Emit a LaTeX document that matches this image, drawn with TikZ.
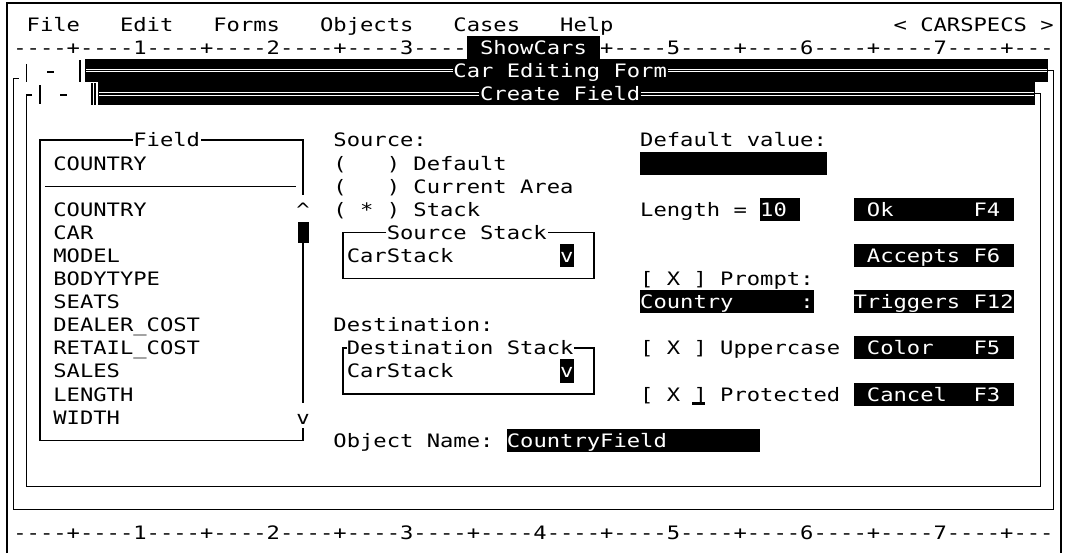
\documentclass[tikz,border=0pt]{standalone}
\usepackage{fontspec}
\newfontfamily\term{DejaVu Sans Mono}[FakeStretch=1.1975]
\begin{document}
\begin{tikzpicture}[x=13.3375pt, y=-23.1pt,
  txt/.style={anchor=base west, inner sep=0pt, outer sep=0pt,
    font={\term\fontsize{18.5}{18.5}\selectfont}, text=black},
  inv/.style={txt, text=white},
  ctr/.style={txt, anchor=base},
  frame/.style={line width=1.3pt, black},
  edge/.style={line width=2pt, black},
  dbl/.style={white, line width=0.8pt}]

% page and screen edge
\useasboundingbox (0,-0.5606) rectangle (80,23.379);
\fill[white] (0,-0.5606) rectangle (80,23.379);
\draw[edge] (0.5,23.379) -- (0.5,-0.452) -- (79.55,-0.452) -- (79.55,23.379);

% menu bar
\node[txt] (mFile) at (2,0.8) {File};
\node[txt] (mEdit) at (9,0.8) {Edit};
\node[txt] (mForms) at (16,0.8) {Forms};
\node[txt] (mObjects) at (24,0.8) {Objects};
\node[txt] (mCases) at (34,0.8) {Cases};
\node[txt] (mHelp) at (42,0.8) {Help};
\node[txt] (mApp) at (67,0.8) {< CARSPECS >};

% column ruler with the active tab
\node[txt] (rulA) at (1,1.8) {----+----1----+----2----+----3----};
\fill (35,1) rectangle (45,2);
\node[inv] (tab) at (36,1.8) {ShowCars};
\node[txt] (rulB) at (45,1.8) {+----5----+----6----+----7----+---};

% outer window: Car Editing Form
\draw[frame] (1.4,2.85) -- (1,2.85) -- (1,21.5) -- (79,21.5) -- (79,2.5) -- (78.57,2.5);
\draw[frame] (2,2.2) -- (2,3.0);
\draw[frame] (3.55,2.56) -- (4.05,2.56);
\draw[frame] (6,2.05) -- (6,3.0);
\fill (6.37,2) rectangle (78.57,3);
\draw[dbl] (6.45,2.45) -- (33.95,2.45) (6.45,2.55) -- (33.95,2.55);
\draw[dbl] (50.05,2.45) -- (78.5,2.45) (50.05,2.55) -- (78.5,2.55);
\node[inv] (carT) at (34,2.8) {Car Editing Form};

% inner window: Create Field
\draw[frame] (2.4,3.55) -- (2,3.55) -- (2,20.5) -- (78,20.5) -- (78,3.5) -- (77.6,3.5);
\draw[frame] (3,3.12) -- (3,3.92);
\draw[frame] (4.5,3.55) -- (5.0,3.55);
\draw[frame] (6.9,3.05) -- (6.9,3.97) (7.12,3.05) -- (7.12,3.97);
\fill (7.35,3) rectangle (77.6,4);
\draw[dbl] (7.45,3.45) -- (35.95,3.45) (7.45,3.55) -- (35.95,3.55);
\draw[dbl] (48.05,3.45) -- (77.5,3.45) (48.05,3.55) -- (77.5,3.55);
\node[inv] (crT) at (36,3.8) {Create Field};

% Field list box with scroll bar
\draw[frame] (9.95,5.5) -- (3,5.5) -- (3,18.5) -- (22.72,18.5) -- (22.72,17.97);
\draw[frame] (15.1,5.5) -- (22.72,5.5) -- (22.72,7.88);
\draw[frame] (22.72,9.96) -- (22.72,16.88);
\fill (22.34,9.05) rectangle (23.17,9.96);
\node[ctr] (scrUp) at (22.72,8.8) {\string^};
\node[ctr] (scrDn) at (22.72,17.8) {v};
\node[txt] (fldT) at (10,5.8) {Field};
\node[txt] (fldSel) at (4,6.8) {COUNTRY};
\draw[frame] (3.37,7.5) -- (22.19,7.5);
\foreach \t [count=\i from 8] in {COUNTRY,CAR,MODEL,BODYTYPE,SEATS,DEALER\_COST,RETAIL\_COST,SALES,LENGTH,WIDTH}
  \node[txt] (fld\i) at (4,\i+0.8) {\t};

% source choice
\node[txt] (srcL) at (25,5.8) {Source:};
\foreach \r/\lab in {6/Default,7/Current Area,8/Stack}{
  \node[txt] (po\r) at (25,\r+0.8) {(};
  \node[txt] (pc\r) at (29,\r+0.8) {)};
  \node[txt] (opt\r) at (31,\r+0.8) {\lab};
}
\node[txt] (star) at (27,8.8) {*};

% Source Stack box
\draw[frame] (28.95,9.5) -- (25.72,9.5) -- (25.72,11.5) -- (44.54,11.5) -- (44.54,9.5) -- (41.05,9.5);
\node[txt] (ssT) at (29,9.8) {Source Stack};
\node[txt] (ssV) at (26,10.8) {CarStack};
\fill (42,10) rectangle (43,11);
\node[inv] (ssDrop) at (42,10.8) {v};

% Destination Stack box
\node[txt] (dstL) at (25,13.8) {Destination:};
\draw[frame] (25.98,14.5) -- (25.72,14.5) -- (25.72,16.5) -- (44.54,16.5) -- (44.54,14.5) -- (43.05,14.5);
\node[txt] (dsT) at (26,14.8) {Destination Stack};
\node[txt] (dsV) at (26,15.8) {CarStack};
\fill (42,15) rectangle (43,16);
\node[inv] (dsDrop) at (42,15.8) {v};

% object name
\node[txt] (objL) at (25,18.8) {Object Name:};
\fill (38,18) rectangle (57,19);
\node[inv] (objV) at (38,18.8) {CountryField};

% default value and length
\node[txt] (defL) at (48,5.8) {Default value:};
\fill (48,6) rectangle (62,7);
\node[txt] (lenL) at (48,8.8) {Length =};
\fill (57,8) rectangle (60,9);
\node[inv] (lenV) at (57,8.8) {10};

% check boxes
\foreach \r/\lab in {11/Prompt:,14/Uppercase,16/Protected}{
  \node[txt] (cbo\r) at (48,\r+0.8) {[};
  \node[txt] (cbx\r) at (50,\r+0.8) {X};
  \node[txt] (cbc\r) at (52,\r+0.8) {]};
  \node[txt] (cbl\r) at (54,\r+0.8) {\lab};
}
\fill (51.9,16.83) rectangle (52.88,16.97);
\fill (48,12) rectangle (61,13);
\node[inv] (prV) at (48,12.8) {Country};
\node[inv] (prC) at (60,12.8) {:};

% function-key buttons
\foreach \r/\lab/\c/\key in {8/Ok/65/F4,10/Accepts/65/F6,12/Triggers/64/F12,14/Color/65/F5,16/Cancel/65/F3}{
  \fill (64,\r) rectangle (76,\r+1);
  \node[inv] (btn\r) at (\c,\r+0.8) {\lab};
  \node[inv] (key\r) at (73,\r+0.8) {\key};
}

% bottom ruler
\node[txt] (rulC) at (1,22.8) {----+----1----+----2----+----3----+----4----+----5----+----6----+----7----+---};
\end{tikzpicture}
\end{document}
